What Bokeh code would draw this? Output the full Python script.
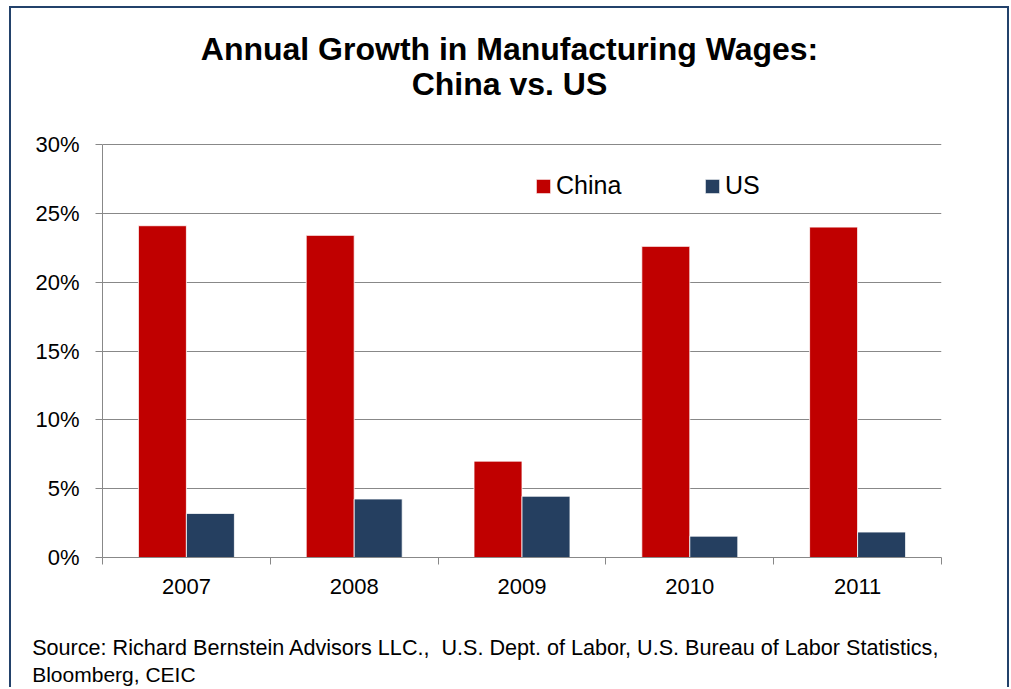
import numpy as np
from bokeh.plotting import figure
from bokeh.models import ColumnDataSource, FixedTicker, Legend, LegendItem, Title
from bokeh.core.properties import value
from bokeh.embed import file_html
from bokeh.resources import INLINE

# ---- data ----
years = ["2007", "2008", "2009", "2010", "2011"]
china = [24.1, 23.4, 7.0, 22.6, 24.0]
us = [3.2, 4.25, 4.45, 1.55, 1.85]
y_ticks = [0, 5, 10, 15, 20, 25, 30]
y_tick_labels = ["0%", "5%", "10%", "15%", "20%", "25%", "30%"]
title_lines = ["Annual Growth in Manufacturing Wages:", "China vs. US"]
source_lines = ["Source: Richard Bernstein Advisors LLC.,\u00a0 U.S. Dept. of Labor, U.S. Bureau of Labor Statistics,",
                "Bloomberg, CEIC"]

FONT = "Liberation Sans"
RED = "#C00000"
BLUE = "#253F60"
GRID = "#888888"
FRAME_COL = "#23426B"

# ---- layout geometry (page pixels) ----
PAGE_X0, PAGE_Y0 = 11, 8            # canvas origin inside the border
FRAME_L, FRAME_R = 102, 941          # plot area left / right
AX_TOP, AX_BOT = 144, 557            # y = 30 % and y = 0 %
W, H = 1000, 681
y_max = y_ticks[-1]
px_per_unit = (AX_BOT - AX_TOP) / y_max
y_end = (AX_BOT - PAGE_Y0) / px_per_unit   # frame extends up to the canvas top (title area)


def dx(px):
    return (px - FRAME_L) / ((FRAME_R - FRAME_L) / len(years))


def dy(py):
    return (AX_BOT - py) / px_per_unit


pos = np.arange(len(years)) + 0.5
bar_w = 0.286
src = ColumnDataSource(dict(year=years, pos=pos, china=china, us=us,
                            xc=pos - bar_w / 2, xu=pos + bar_w / 2))

p = figure(width=W, height=H, x_range=(0, len(years)), y_range=(0, y_end),
           output_backend="svg", toolbar_location=None,
           min_border_left=FRAME_L - PAGE_X0, min_border_right=W - (FRAME_R - PAGE_X0),
           min_border_top=0, min_border_bottom=H - (AX_BOT - PAGE_Y0))
p.styles = {"border-left": f"2px solid {FRAME_COL}", "border-top": f"2px solid {FRAME_COL}",
            "border-right": f"2px solid {FRAME_COL}", "margin-left": "9px", "margin-top": "6px"}
p.outline_line_color = None
p.background_fill_color = "white"
p.border_fill_color = "white"

r1 = p.vbar(x="xc", top="china", width=bar_w, bottom=0, source=src,
            fill_color=RED, line_color="white", line_width=0.8)
r2 = p.vbar(x="xu", top="us", width=bar_w, bottom=0, source=src,
            fill_color=BLUE, line_color="white", line_width=0.8)

# y axis
p.yaxis.ticker = FixedTicker(ticks=y_ticks, minor_ticks=[])
p.yaxis.bounds = (0, y_max)
p.yaxis.major_label_overrides = {t: l for t, l in zip(y_ticks, y_tick_labels)}
p.yaxis.axis_line_color = GRID
p.yaxis.major_tick_line_color = GRID
p.yaxis.major_tick_out = 7
p.yaxis.major_tick_in = 0
p.yaxis.major_label_standoff = 16
p.yaxis.major_label_text_font = FONT
p.yaxis.major_label_text_font_size = "22px"
p.yaxis.major_label_text_color = "black"

# x axis: labels at centers, ticks at boundaries (minor)
p.xaxis.ticker = FixedTicker(ticks=list(pos), minor_ticks=list(range(len(years) + 1)))
p.xaxis.major_label_overrides = {float(x): y for x, y in zip(pos, years)}
p.xaxis.axis_line_color = GRID
p.xaxis.major_tick_line_color = None
p.xaxis.major_tick_out = 0
p.xaxis.major_tick_in = 0
p.xaxis.minor_tick_line_color = GRID
p.xaxis.minor_tick_out = 7
p.xaxis.minor_tick_in = 0
p.xaxis.major_label_standoff = 14
p.xaxis.major_label_text_font = FONT
p.xaxis.major_label_text_font_size = "22px"
p.xaxis.major_label_text_color = "black"

p.xgrid.visible = False
p.ygrid.ticker = FixedTicker(ticks=y_ticks)
p.ygrid.grid_line_color = GRID
p.ygrid.grid_line_width = 1

legend = Legend(items=[LegendItem(label="China", renderers=[r1]),
                       LegendItem(label="US", renderers=[r2])],
                orientation="horizontal", location=(432, 357),
                glyph_width=18, glyph_height=18, label_standoff=4, spacing=0,
                label_width=147, padding=0, margin=0,
                border_line_alpha=0, background_fill_alpha=0,
                label_text_font=FONT, label_text_font_size="25px", label_text_color="black")
p.add_layout(legend)

# chart title, drawn inside the (extended) frame above the plot area
p.text(x=[dx(509)] * 2, y=[dy(48.7), dy(83.8)], text=title_lines,
       text_align="center", text_baseline="alphabetic", text_font=value(FONT),
       text_font_size="32px", text_font_style="bold", text_color="black")

# source note below the axis: an invisible spacer, then the two lines
p.add_layout(Title(text="\u00a0", text_font_size="1px", standoff=35), "below")
p.add_layout(Title(text=source_lines[0], align="left", offset=-(FRAME_L - 31.7),
                   vertical_align="top", standoff=0,
                   text_font=FONT, text_font_size="21.6px", text_font_style="normal",
                   text_color="black"), "below")
p.add_layout(Title(text=source_lines[1], align="left", offset=-(FRAME_L - 31.7),
                   vertical_align="top", standoff=2,
                   text_font=FONT, text_font_size="21px", text_font_style="normal",
                   text_color="black"), "below")

open("out.html", "w").write(file_html(p, INLINE))
